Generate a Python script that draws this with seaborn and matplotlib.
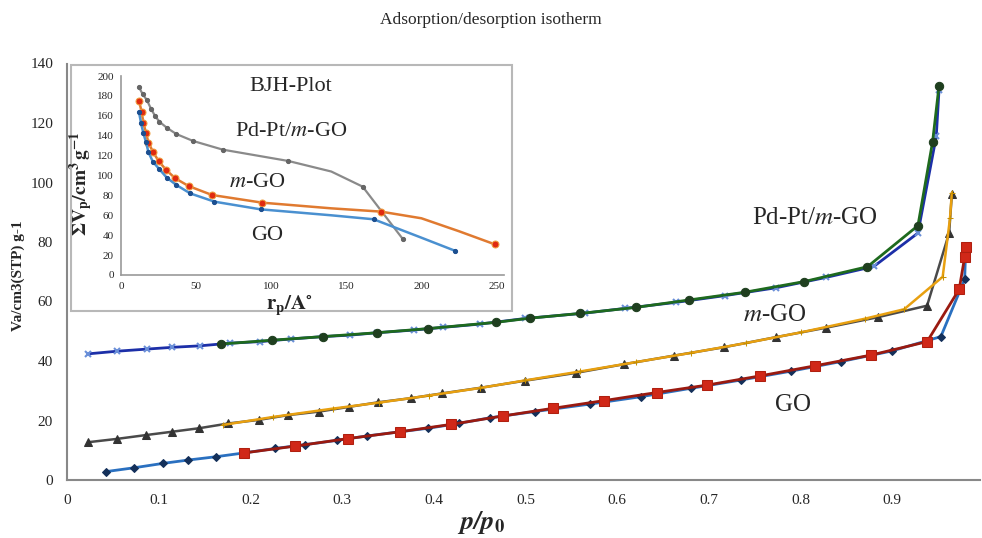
import matplotlib
matplotlib.use("Agg")
import matplotlib.pyplot as plt
import seaborn as sns
from matplotlib.patches import Rectangle

# MAIN ISOTHERM DATA (p/p0 vs Va)

# Pd-Pt/m-GO adsorption (blue) and desorption (green)
pdpt_ads_x = [0.023, 0.055, 0.087, 0.115, 0.145, 0.178, 0.21, 0.244, 0.279, 0.309, 0.338, 0.378,
              0.41, 0.45, 0.50, 0.565, 0.609, 0.664, 0.718, 0.773, 0.828, 0.88, 0.928, 0.948, 0.951]
pdpt_ads_y = [42.4, 43.3, 44.0, 44.6, 45.1, 46.0, 46.5, 47.4, 48.2, 48.7, 49.5, 50.4,
              51.3, 52.4, 54.3, 56.1, 57.7, 59.7, 62.0, 64.6, 68.1, 71.8, 83.0, 115.5, 131.0]
pdpt_des_x = [0.951, 0.944, 0.928, 0.873, 0.804, 0.739, 0.678, 0.62, 0.56, 0.505, 0.468,
              0.394, 0.338, 0.279, 0.224, 0.168]
pdpt_des_y = [132.5, 113.7, 85.5, 71.7, 66.7, 63.1, 60.5, 58.0, 56.0, 54.4, 53.0,
              50.9, 49.5, 48.2, 47.0, 45.7]

# m-GO adsorption (grey) and desorption (orange)
mgo_ads_x = [0.023, 0.054, 0.086, 0.114, 0.144, 0.176, 0.209, 0.241, 0.275, 0.308, 0.339, 0.375,
             0.409, 0.451, 0.50, 0.555, 0.607, 0.662, 0.716, 0.773, 0.828, 0.884, 0.938, 0.962, 0.965]
mgo_ads_y = [12.7, 13.8, 15.1, 16.2, 17.4, 19.0, 20.2, 21.8, 23.0, 24.6, 26.1, 27.5,
             29.1, 31.0, 33.4, 36.0, 38.9, 41.8, 44.6, 48.0, 51.2, 54.7, 58.6, 83.0, 96.0]
mgo_des_x = [0.965, 0.963, 0.955, 0.913, 0.87, 0.80, 0.74, 0.68, 0.62, 0.56, 0.50, 0.45,
             0.395, 0.34, 0.29, 0.225, 0.17]
mgo_des_y = [96.6, 88.0, 68.3, 57.4, 54.2, 49.6, 46.0, 42.7, 39.6, 36.5, 33.5, 30.9,
             28.4, 26.0, 24.0, 21.2, 18.5]

# GO adsorption (blue) and desorption (red)
go_ads_x = [0.042, 0.073, 0.105, 0.132, 0.162, 0.193, 0.227, 0.260, 0.294, 0.327, 0.363, 0.394,
            0.427, 0.461, 0.51, 0.57, 0.626, 0.680, 0.735, 0.790, 0.844, 0.900, 0.953, 0.979, 0.98]
go_ads_y = [2.8, 4.1, 5.6, 6.7, 7.8, 9.1, 10.6, 11.9, 13.3, 14.8, 16.2, 17.4,
            19.0, 20.9, 23.0, 25.5, 28.0, 30.8, 33.6, 36.6, 39.8, 43.4, 48.2, 67.5, 77.0]
go_des_x = [0.98, 0.979, 0.973, 0.938, 0.877, 0.816, 0.756, 0.698, 0.643, 0.586, 0.53, 0.475,
            0.419, 0.363, 0.306, 0.249, 0.193]
go_des_y = [78.2, 75.0, 64.1, 46.5, 42.0, 38.4, 35.0, 31.9, 29.4, 26.7, 24.1, 21.5,
            18.7, 16.2, 13.9, 11.4, 9.1]

# INSET BJH DATA (rp vs sum Vp)
bjh_pdpt_r = [12, 14.5, 17.2, 20, 22.7, 25.6, 30.5, 36.8, 48, 67.7, 111.4, 140, 160.9, 187.6]
bjh_pdpt_v = [188.6, 181.6, 175.9, 167, 159.8, 154, 148, 141.7, 134.7, 126, 114.6, 104, 88.8, 36.2]
bjh_pdpt_marks = [True] * 11 + [False, True, True]
bjh_mgo_r = [12, 13.8, 14.9, 16.7, 18.3, 21.2, 25, 30.1, 36.1, 45, 60.6, 94, 140, 173.1, 200, 225, 248.9]
bjh_mgo_v = [175.2, 163.5, 153, 142.4, 133, 124, 114.6, 105.5, 97.2, 89.4, 80.4, 72.7, 67, 63.7, 57, 44, 30.8]
bjh_mgo_marks = [True] * 12 + [False, True, False, False, True]
bjh_go_r = [12, 13.4, 14.9, 16.7, 18.3, 21.2, 25.6, 30.5, 36.8, 46.1, 62.2, 92.9, 140, 168.2, 200, 222.1]
bjh_go_v = [163.5, 152.4, 142.4, 133.3, 123.3, 113.9, 106.2, 97.8, 90.5, 82, 73.7, 66, 60, 56, 37.5, 24.5]
bjh_go_marks = [True] * 12 + [False, True, False, True]

x_ticks = [0, 0.1, 0.2, 0.3, 0.4, 0.5, 0.6, 0.7, 0.8, 0.9]
x_tick_labels = ["0", "0.1", "0.2", "0.3", "0.4", "0.5", "0.6", "0.7", "0.8", "0.9"]
y_ticks = [0, 20, 40, 60, 80, 100, 120, 140]


sns.set_style("white")
plt.rcParams["font.family"] = ["Liberation Serif", "DejaVu Serif"]
plt.rcParams["mathtext.fontset"] = "stix"

W, H = 982, 538
fig = plt.figure(figsize=(W / 100, H / 100), dpi=100)

# MAIN AXES
ax = fig.add_axes([67 / W, 1 - 480 / H, 913 / W, 416.5 / H])

sns.lineplot(x=pdpt_ads_x, y=pdpt_ads_y, sort=False, estimator=None, ax=ax, color="#1c2fa8",
             lw=2, marker="x", markersize=5, markeredgecolor="#6a8fd8", markeredgewidth=1.5)
sns.lineplot(x=pdpt_des_x, y=pdpt_des_y, sort=False, estimator=None, ax=ax, color="#1e6a1e",
             lw=2, marker="o", markersize=6, markerfacecolor="#1f3f1f", markeredgecolor="#1f3f1f")
sns.lineplot(x=mgo_ads_x, y=mgo_ads_y, sort=False, estimator=None, ax=ax, color="#4a4a4a",
             lw=1.8, marker="^", markersize=6, markerfacecolor="#333333", markeredgecolor="#333333")
sns.lineplot(x=mgo_des_x, y=mgo_des_y, sort=False, estimator=None, ax=ax, color="#e8a010",
             lw=1.8, marker="+", markersize=5, markeredgecolor="#c89000")
sns.lineplot(x=go_ads_x, y=go_ads_y, sort=False, estimator=None, ax=ax, color="#2a70c0",
             lw=2, marker="D", markersize=4, markerfacecolor="#14305a", markeredgecolor="#14305a")
sns.lineplot(x=go_des_x, y=go_des_y, sort=False, estimator=None, ax=ax, color="#9a1a10",
             lw=2, marker="s", markersize=6.5, markerfacecolor="#d02818", markeredgecolor="#b02010")

ax.set_xlim(0, 0.9957)
ax.set_ylim(0, 140)
ax.set_xticks(x_ticks)
ax.set_xticklabels(x_tick_labels)
ax.set_yticks(y_ticks)
ax.tick_params(axis="both", labelsize=11, length=4, color="#888888", direction="out", pad=6)
for side in ["top", "right"]:
    ax.spines[side].set_visible(False)
for side in ["left", "bottom"]:
    ax.spines[side].set_color("#888888")
    ax.spines[side].set_linewidth(1.5)
ax.set_xlabel("")
ax.set_ylabel("")

ax.text(0.816, 88, "Pd-Pt/$\\mathit{m}$-GO", fontsize=18, ha="center", va="center")
ax.text(0.772, 55.5, "$\\mathit{m}$-GO", fontsize=18, ha="center", va="center")
ax.text(0.792, 25.2, "GO", fontsize=18, ha="center", va="center")

fig.text(491 / W, 1 - 20 / H, "Adsorption/desorption isotherm", fontsize=12.5,
         ha="center", va="center")
fig.text(18 / W, 1 - 276 / H, "Va/cm3(STP) g-1", fontsize=11, fontweight="bold",
         rotation=90, ha="center", va="center")
fig.text(481 / W, 1 - 523 / H, "$\\mathbfit{p/p}_{\\mathbf{0}}$", fontsize=19,
         ha="center", va="center")

# INSET FRAME
frame = Rectangle((71 / W, 1 - 311 / H), (512 - 71) / W, (311 - 65) / H, transform=fig.transFigure,
                  facecolor="white", edgecolor="#b8b8b8", lw=1.5, zorder=1)
fig.add_artist(frame)

# INSET BJH PLOT
ax2 = fig.add_axes([121 / W, 1 - 275 / H, 383 / W, 199 / H], zorder=2)
ax2.set_facecolor("none")

sns.lineplot(x=bjh_pdpt_r, y=bjh_pdpt_v, sort=False, estimator=None, ax=ax2, color="#8a8a8a",
             lw=1.6, marker="o", markersize=3, markerfacecolor="#666666", markeredgecolor="#666666",
             markevery=bjh_pdpt_marks)
sns.lineplot(x=bjh_mgo_r, y=bjh_mgo_v, sort=False, estimator=None, ax=ax2, color="#e07a30",
             lw=1.8, marker="o", markersize=5, markerfacecolor="#e02a10", markeredgecolor="#f0a040",
             markevery=bjh_mgo_marks)
sns.lineplot(x=bjh_go_r, y=bjh_go_v, sort=False, estimator=None, ax=ax2, color="#4a90d0",
             lw=1.8, marker="o", markersize=3, markerfacecolor="#1c4f90", markeredgecolor="#1c4f90",
             markevery=bjh_go_marks)

ax2.set_xlim(0, 255)
ax2.set_ylim(0, 200)
ax2.set_xticks([0, 50, 100, 150, 200, 250])
ax2.set_yticks(list(range(0, 201, 20)))
ax2.tick_params(axis="both", labelsize=8, length=3, color="#999999", pad=2)
for side in ["top", "right"]:
    ax2.spines[side].set_visible(False)
for side in ["left", "bottom"]:
    ax2.spines[side].set_color("#999999")
    ax2.spines[side].set_linewidth(1.2)
ax2.set_xlabel("$\\mathbf{r_p/A^{\\circ}}$", fontsize=15)
ax2.set_ylabel("$\\mathbf{\\Sigma V_p/cm^3\\,g^{-1}}$", fontsize=14)
ax2.xaxis.set_label_coords(0.44, -0.095)
ax2.yaxis.set_label_coords(-0.068, 0.46)

ax2.text(113, 189, "BJH-Plot", fontsize=16, ha="center", va="center")
ax2.text(113, 144.5, "Pd-Pt/$\\mathit{m}$-GO", fontsize=16, ha="center", va="center")
ax2.text(91, 92.5, "$\\mathit{m}$-GO", fontsize=16, ha="center", va="center")
ax2.text(97.5, 40, "GO", fontsize=16, ha="center", va="center")

plt.savefig("out.png", dpi=100)
